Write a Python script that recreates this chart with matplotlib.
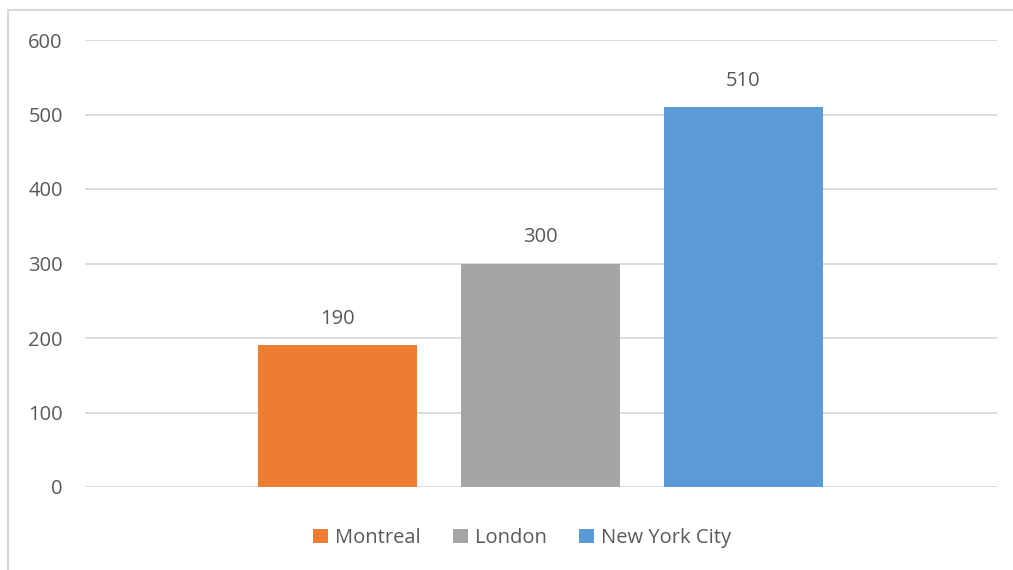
import matplotlib.pyplot as plt
from matplotlib.patches import Rectangle

cities = ['Montreal', 'London', 'New York City']
values = [190, 300, 510]
colors = ['#ED7D31', '#A5A5A5', '#5B9BD5']
yticks = [0, 100, 200, 300, 400, 500, 600]

plt.rcParams['font.family'] = ['Open Sans', 'DejaVu Sans']
text_color = '#595959'
fs = 14.5

fig = plt.figure(figsize=(10.13, 5.7), dpi=100)
ax = fig.add_axes([85 / 1013, 1 - 487 / 570, 912 / 1013, 447 / 570])

# chart frame (partly off the canvas)
fig.patches.append(Rectangle((8 / 1013, -0.1), 1.2, 1 - 10 / 570 + 0.1,
                             transform=fig.transFigure, fill=False,
                             edgecolor='#d9d9d9', linewidth=1.5))

pos = [-1, 0, 1]
for p, city, v, c in zip(pos, cities, values, colors):
    ax.bar(p, v, width=0.783, color=c, label=city, zorder=3)
    ax.text(p, v + 22, str(v), ha='center', va='bottom', fontsize=fs, color=text_color)

ax.set_xlim(-2.244, 2.249)
ax.set_ylim(0, 600)
ax.set_yticks(yticks)
ax.set_xticks([])
ax.grid(axis='y', color='#d9d9d9', linewidth=1.3, zorder=0)
for s in ax.spines.values():
    s.set_visible(False)
ax.tick_params(axis='y', length=0, pad=16, labelsize=fs, labelcolor=text_color)

leg = fig.legend(loc='center', bbox_to_anchor=(522 / 1013, 1 - 538 / 570), ncol=3,
                 frameon=False, fontsize=fs, handlelength=0.75, handleheight=0.75,
                 handletextpad=0.35, columnspacing=1.6)
for t in leg.get_texts():
    t.set_color(text_color)

fig.savefig('out.png', dpi=100)
